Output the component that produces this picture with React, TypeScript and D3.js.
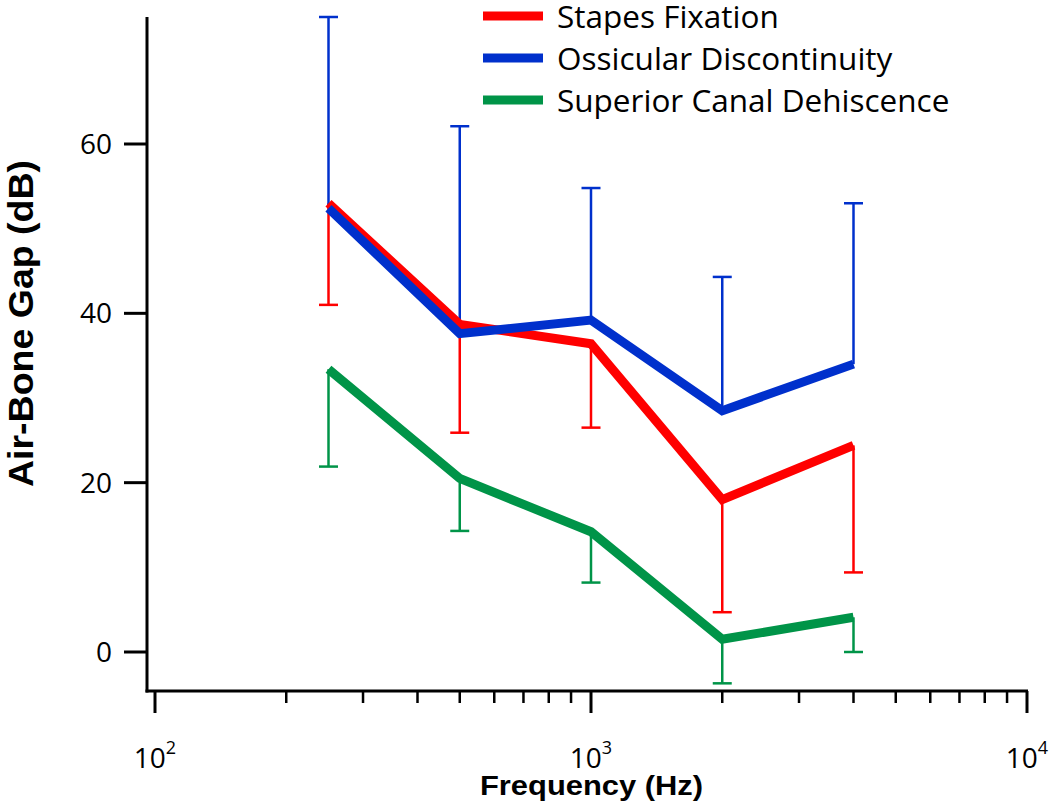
import React from "react";
import * as d3 from "d3";

const freqs = [250, 500, 1000, 2000, 4000];
const seriesNames = ["Stapes Fixation", "Ossicular Discontinuity", "Superior Canal Dehiscence"];
const seriesColors = ["#ff0000", "#0030cc", "#009448"];
const stapesValues = [53.0, 38.7, 36.4, 18.0, 24.4];
const stapesErrEnds = [41.0, 25.9, 26.5, 4.7, 9.4];
const ossicularValues = [52.4, 37.6, 39.2, 28.5, 34.0];
const ossicularErrEnds = [75.0, 62.1, 54.8, 44.3, 53.0];
const scdValues = [33.4, 20.5, 14.2, 1.5, 4.1];
const scdErrEnds = [21.9, 14.3, 8.2, -3.7, 0.0];
const yTicks = [0, 20, 40, 60];
const xMajorTicks = [100, 1000, 10000];
const xMajorExponents = ["2", "3", "4"];
const xMinorTicks = [200, 300, 400, 500, 600, 700, 800, 900, 2000, 3000, 4000, 5000, 6000, 7000, 8000, 9000];

const W = 1050;
const H = 805;

export default function App() {
  const x = d3.scaleLog().domain([100, 10000]).range([155, 1027]);
  const y = d3.scaleLinear().domain([0, 60]).range([652, 144]);
  const axisX = 147;
  const axisY = 691;

  const series = [
    { name: seriesNames[0], color: seriesColors[0], values: stapesValues, errs: stapesErrEnds },
    { name: seriesNames[1], color: seriesColors[1], values: ossicularValues, errs: ossicularErrEnds },
    { name: seriesNames[2], color: seriesColors[2], values: scdValues, errs: scdErrEnds },
  ];
  const drawOrder = [2, 0, 1];

  const line = d3
    .line<number>()
    .x((_, i) => x(freqs[i]))
    .y((d) => y(d));

  const tickFont = "'Open Sans', 'Noto Sans', sans-serif";
  const titleFont = "'Liberation Sans', Arial, sans-serif";

  return (
    <svg width={W} height={H} style={{ position: "absolute", left: 0, top: 0, background: "#fff" }}>
      <rect x={0} y={0} width={W} height={H} fill="#fff" />
      {/* error bars */}
      {drawOrder.map((si) => {
        const s = series[si];
        return (
          <g key={"err" + si} stroke={s.color} strokeWidth={2.5} fill="none">
            {freqs.map((f, i) => (
              <g key={i}>
                <line x1={x(f)} x2={x(f)} y1={y(s.values[i])} y2={y(s.errs[i])} />
                <line x1={x(f) - 9.5} x2={x(f) + 9.5} y1={y(s.errs[i])} y2={y(s.errs[i])} />
              </g>
            ))}
          </g>
        );
      })}
      {/* lines */}
      {drawOrder.map((si) => {
        const s = series[si];
        return (
          <path
            key={"line" + si}
            d={line(s.values) || ""}
            fill="none"
            stroke={s.color}
            strokeWidth={9}
            strokeLinejoin="miter"
            strokeLinecap="butt"
          />
        );
      })}
      {/* axes */}
      <line x1={axisX} x2={axisX} y1={17} y2={axisY + 1.5} stroke="#000" strokeWidth={3} />
      <line x1={axisX - 1.5} x2={1028} y1={axisY} y2={axisY} stroke="#000" strokeWidth={3} />
      {yTicks.map((t) => (
        <g key={"yt" + t}>
          <line x1={124} x2={axisX} y1={y(t)} y2={y(t)} stroke="#000" strokeWidth={3} />
          <text
            x={112}
            y={y(t)}
            dy="0.36em"
            textAnchor="end"
            fontFamily={tickFont}
            fontSize={28}
            fill="#000"
          >
            {t}
          </text>
        </g>
      ))}
      {xMinorTicks.map((t) => (
        <line key={"xm" + t} x1={x(t)} x2={x(t)} y1={axisY} y2={703} stroke="#000" strokeWidth={2.5} />
      ))}
      {xMajorTicks.map((t, i) => (
        <g key={"xt" + t}>
          <line x1={x(t)} x2={x(t)} y1={axisY} y2={713} stroke="#000" strokeWidth={3} />
          <text x={x(t)} y={768} textAnchor="middle" fontFamily={tickFont} fontSize={28} fill="#000">
            10
            <tspan fontSize={18} dy={-14}>
              {xMajorExponents[i]}
            </tspan>
          </text>
        </g>
      ))}
      {/* axis titles */}
      <text
        x={480}
        y={795}
        textLength={223}
        lengthAdjust="spacingAndGlyphs"
        fontFamily={titleFont}
        fontWeight="bold"
        fontSize={28}
        fill="#000"
      >
        Frequency (Hz)
      </text>
      <text
        transform={`translate(33,487) rotate(-90)`}
        textLength={327}
        lengthAdjust="spacingAndGlyphs"
        fontFamily={titleFont}
        fontWeight="bold"
        fontSize={35}
        fill="#000"
      >
        Air-Bone Gap (dB)
      </text>
      {/* legend */}
      {series.map((s, i) => (
        <g key={"lg" + i}>
          <line x1={483} x2={543} y1={16 + i * 42} y2={16 + i * 42} stroke={s.color} strokeWidth={9} />
          <text x={557} y={28 + i * 42} fontFamily={tickFont} fontSize={31.5} fill="#000">
            {s.name}
          </text>
        </g>
      ))}
    </svg>
  );
}
